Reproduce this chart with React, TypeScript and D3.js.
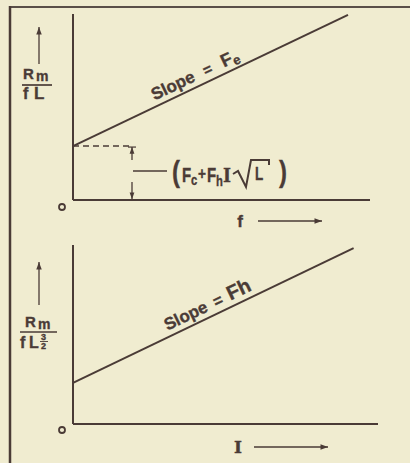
import React from "react";
import * as d3 from "d3";

// ---- data ----
const xDomain = [0, 10];
const yDomain = [0, 10];
// top panel: Rm/(fL) vs f
const topLineX = [0, 9.26];
const topLineY = [2.9, 9.95];
// bottom panel: Rm/(fL^3/2) vs I
const botLineX = [0, 9.2];
const botLineY = [2.3, 9.83];
const xAxisLabels = ["f", "I"];

const W = 410, H = 463;
const ink = "#4a3b36";
const bg = "#f0ecd0";
const font = "'Liberation Sans', Arial, sans-serif";

function Arrow({ x1, y1, x2, y2, head = 6 }: any) {
  const a = Math.atan2(y2 - y1, x2 - x1);
  const hx1 = x2 - head * Math.cos(a - 0.35), hy1 = y2 - head * Math.sin(a - 0.35);
  const hx2 = x2 - head * Math.cos(a + 0.35), hy2 = y2 - head * Math.sin(a + 0.35);
  return (
    <g>
      <line x1={x1} y1={y1} x2={x2} y2={y2} stroke={ink} strokeWidth={1.3} />
      <path d={`M${x2},${y2}L${hx1},${hy1}L${hx2},${hy2}Z`} fill={ink} />
    </g>
  );
}

// condensed text piece
function CT({ x, y, size, children, sx = 0.75, family }: any) {
  return (
    <text transform={`translate(${x},${y}) scale(${sx},1)`} fontSize={size} fontFamily={family}>
      {children}
    </text>
  );
}

export default function App() {
  const xT = d3.scaleLinear().domain(xDomain).range([73, 370]);
  const yT = d3.scaleLinear().domain(yDomain).range([200, 14]);
  const xB = d3.scaleLinear().domain(xDomain).range([73, 378]);
  const yB = d3.scaleLinear().domain(yDomain).range([424, 245]);

  const lineGen = (xs: any, ys: any, xv: number[], yv: number[]) =>
    d3.line<number>().x((d) => xs(d)).y((d, i) => ys(yv[i]))(xv) as string;

  const angT = (Math.atan2(yT(topLineY[1]) - yT(topLineY[0]), xT(topLineX[1]) - xT(topLineX[0])) * 180) / Math.PI;
  const angB = (Math.atan2(yB(botLineY[1]) - yB(botLineY[0]), xB(botLineX[1]) - xB(botLineX[0])) * 180) / Math.PI;
  const lerpY = (xv: number[], yv: number[], x: number) => yv[0] + ((yv[1] - yv[0]) * (x - xv[0])) / (xv[1] - xv[0]);

  const tLx = xT.invert(157), tLy = yT(lerpY(topLineX, topLineY, tLx));
  const bLx = xB.invert(170), bLy = yB(lerpY(botLineX, botLineY, bLx));

  const interceptY = yT(topLineY[0]);
  const axT = xT(0), axB = xB(0);
  const txt = { fill: ink, fontWeight: "bold" as any, stroke: ink, strokeWidth: 0.35 };

  return (
    <svg width={W} height={H} style={{ position: "absolute", left: 0, top: 0, background: bg }} fontFamily={font}>
      <rect x={0} y={0} width={W} height={H} fill={bg} />
      {/* frame */}
      <line x1={10} y1={7} x2={W} y2={7} stroke="#5a4f48" strokeWidth={2.2} />
      <line x1={10} y1={6} x2={10} y2={H} stroke={ink} strokeWidth={2.5} />

      {/* ---- top panel ---- */}
      <line x1={axT} y1={yT(yDomain[1])} x2={axT} y2={yT(0)} stroke={ink} strokeWidth={2} />
      <line x1={axT} y1={yT(0)} x2={xT(xDomain[1])} y2={yT(0)} stroke={ink} strokeWidth={2} />
      <path d={lineGen(xT, yT, topLineX, topLineY)} stroke={ink} strokeWidth={2} fill="none" />
      <line x1={axT} y1={interceptY} x2={130} y2={interceptY} stroke={ink} strokeWidth={1.4} strokeDasharray="6,4" />
      {/* dimension arrows */}
      <Arrow x1={132} y1={160} x2={132} y2={interceptY + 1} head={7} />
      <line x1={128} y1={interceptY + 1} x2={136} y2={interceptY + 1} stroke={ink} strokeWidth={1.2} />
      <Arrow x1={132} y1={182} x2={132} y2={yT(0) - 1} head={7} />
      <line x1={133} y1={171} x2={167} y2={171} stroke={ink} strokeWidth={1.4} />
      <g {...txt}>
        <CT x={172} y={182} size={30} sx={0.8}>(</CT>
        <CT x={182} y={182} size={20}>F</CT>
        <CT x={191} y={185} size={15}>c</CT>
        <CT x={198} y={179} size={17} sx={0.8}>+</CT>
        <CT x={207} y={182} size={20}>F</CT>
        <CT x={216} y={186} size={15}>h</CT>
        <CT x={223} y={182} size={19} sx={0.9} family="'DejaVu Serif', serif">I</CT>
        <CT x={255} y={180} size={18}>L</CT>
        <CT x={279} y={182} size={30} sx={0.8}>)</CT>
      </g>
      <path d="M233,174 L238,171 L246,187 L251,160 L269,160 L269,165" stroke={ink} strokeWidth={2} fill="none" />
      <circle cx={axT - 11} cy={yT(0) + 7} r={3} fill="none" stroke={ink} strokeWidth={1.8} />
      {/* y label */}
      <Arrow x1={39} y1={64} x2={39} y2={27} head={8} />
      <g {...txt}>
        <text x={23} y={79} fontSize={15}>R</text>
        <text x={36} y={81} fontSize={14}>m</text>
        <text x={23} y={99} fontSize={16}>f</text>
        <text x={34} y={99} fontSize={17}>L</text>
      </g>
      <line x1={22} y1={85} x2={52} y2={85} stroke={ink} strokeWidth={1.7} />
      {/* slope label */}
      <g transform={`translate(${xT(tLx)},${tLy}) rotate(${angT}) translate(0,-6)`} {...txt}>
        <text x={0} y={0} fontSize={17}>Slope</text>
        <text x={57} y={0} fontSize={15}>=</text>
        <text x={77} y={0} fontSize={18}>F</text>
        <text x={88} y={3} fontSize={13}>e</text>
      </g>
      {/* x label */}
      <text x={240} y={227} fontSize={17} textAnchor="middle" {...txt}>{xAxisLabels[0]}</text>
      <Arrow x1={258} y1={221} x2={322} y2={221} head={8} />

      {/* ---- bottom panel ---- */}
      <line x1={axB} y1={yB(yDomain[1])} x2={axB} y2={yB(0)} stroke={ink} strokeWidth={2} />
      <line x1={axB} y1={yB(0)} x2={xB(xDomain[1])} y2={yB(0)} stroke={ink} strokeWidth={2} />
      <path d={lineGen(xB, yB, botLineX, botLineY)} stroke={ink} strokeWidth={2} fill="none" />
      <circle cx={axB - 11} cy={yB(0) + 6} r={3} fill="none" stroke={ink} strokeWidth={1.8} />
      <Arrow x1={39} y1={305} x2={39} y2={262} head={8} />
      <g {...txt}>
        <text x={25} y={327} fontSize={15}>R</text>
        <text x={38} y={329} fontSize={14}>m</text>
        <text x={20} y={348} fontSize={16}>f</text>
        <text x={29} y={348} fontSize={16}>L</text>
        <text x={41} y={340} fontSize={9}>3</text>
        <text x={41} y={349} fontSize={9}>2</text>
      </g>
      <line x1={40} y1={341.5} x2={48} y2={341.5} stroke={ink} strokeWidth={0.9} />
      <line x1={20} y1={332} x2={57} y2={332} stroke={ink} strokeWidth={1.7} />
      <g transform={`translate(${xB(bLx)},${bLy}) rotate(${angB}) translate(0,-6)`} {...txt}>
        <text x={0} y={0} fontSize={17}>Slope</text>
        <text x={54} y={0} fontSize={16}>=</text>
        <text x={70} y={0} fontSize={20}>Fh</text>
      </g>
      <text x={238} y={453} fontSize={17} textAnchor="middle" {...txt} fontFamily="'DejaVu Serif', serif">{xAxisLabels[1]}</text>
      <Arrow x1={254} y1={447} x2={328} y2={447} head={8} />
    </svg>
  );
}
